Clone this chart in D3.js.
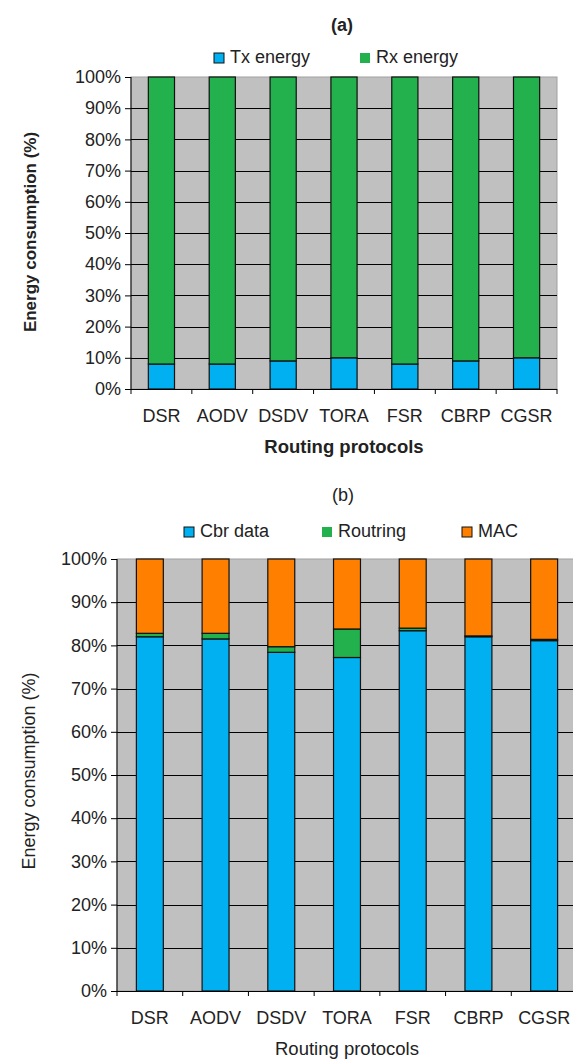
<!DOCTYPE html>
<html>
<head>
<meta charset="utf-8">
<script src="https://cdn.jsdelivr.net/npm/d3@7"></script>
<style>
  html, body { margin: 0; padding: 0; background: #fff; }
  svg { display: block; }
  text { font-family: "Liberation Sans", Arial, sans-serif; fill: #222; }
</style>
</head>
<body>
<svg id="chart" width="573" height="1060"></svg>
<script>
// ---- Data ----
const protocols = ["DSR", "AODV", "DSDV", "TORA", "FSR", "CBRP", "CGSR"];
const yTicks = [0, 10, 20, 30, 40, 50, 60, 70, 80, 90, 100];

// Chart (a)
const txEnergy = [8, 8, 9, 10, 8, 9, 10];
const rxEnergy = [92, 92, 91, 90, 92, 91, 90];

// Chart (b)
const cbrData = [82.0, 81.5, 78.4, 77.2, 83.4, 82.0, 81.1];
const routring = [0.8, 1.3, 1.3, 6.6, 0.6, 0.2, 0.3];
const macData = [17.2, 17.2, 20.3, 16.2, 16.0, 17.8, 18.6];

const svg = d3.select("#chart");

function drawChart(cfg) {
  const g = svg.append("g");
  const x = d3.scaleBand().domain(protocols).range([cfg.left, cfg.right]).paddingInner(0).paddingOuter(0);
  const y = d3.scaleLinear().domain([0, 100]).range([cfg.bottom, cfg.top]);

  // plot background
  g.append("rect")
    .attr("x", cfg.left).attr("y", cfg.top)
    .attr("width", cfg.right - cfg.left).attr("height", cfg.bottom - cfg.top)
    .attr("fill", "#c0c0c0").attr("stroke", "#a0a0a0").attr("stroke-width", 1);

  // gridlines
  g.selectAll(".grid").data(yTicks.filter(t => t > 0 && t < 100)).enter()
    .append("line")
    .attr("x1", cfg.left).attr("x2", cfg.right)
    .attr("y1", d => Math.round(y(d)) + 0.5).attr("y2", d => Math.round(y(d)) + 0.5)
    .attr("stroke", "#000").attr("stroke-width", 1);

  // stacked bars
  const rows = protocols.map((p, i) => {
    const r = { protocol: p };
    cfg.series.forEach(s => { r[s.key] = s.values[i]; });
    return r;
  });
  const stack = d3.stack().keys(cfg.series.map(s => s.key));
  const layers = stack(rows);
  const bw = x.bandwidth() * cfg.barFrac;
  layers.forEach((layer, li) => {
    g.selectAll(null).data(layer).enter().append("rect")
      .attr("x", d => x(d.data.protocol) + (x.bandwidth() - bw) / 2)
      .attr("y", d => y(d[1]))
      .attr("width", bw)
      .attr("height", d => Math.max(0, y(d[0]) - y(d[1])))
      .attr("fill", cfg.series[li].color)
      .attr("stroke", "#111").attr("stroke-width", 1.2);
  });

  // y axis
  const yAxis = d3.axisLeft(y).tickValues(yTicks).tickFormat(d => d + "%").tickSize(6).tickPadding(4);
  const ya = g.append("g").attr("transform", `translate(${cfg.left},0)`).call(yAxis);
  ya.select(".domain").attr("stroke", "#000").attr("d", `M0,${cfg.top}V${cfg.bottom}`);
  ya.selectAll(".tick line").attr("stroke", "#000");
  ya.selectAll("text").style("font-size", "18px").style("font-family", "Liberation Sans, Arial, sans-serif").attr("fill", cfg.tickColor);

  // x axis (ticks at category boundaries)
  const xa = g.append("g").attr("transform", `translate(0,${cfg.bottom})`);
  xa.append("line").attr("x1", cfg.left).attr("x2", cfg.right).attr("y1", 0.5).attr("y2", 0.5).attr("stroke", "#000");
  const bounds = protocols.map(p => x(p)).concat([cfg.right]);
  xa.selectAll(".xt").data(bounds).enter().append("line")
    .attr("x1", d => d).attr("x2", d => d).attr("y1", 0).attr("y2", 5).attr("stroke", "#000");
  xa.selectAll(".xl").data(protocols).enter().append("text")
    .attr("x", d => x(d) + x.bandwidth() / 2)
    .attr("y", cfg.xLabelY - cfg.bottom)
    .attr("text-anchor", "middle")
    .style("font-size", "18px").attr("fill", cfg.tickColor)
    .text(d => d);

  // titles
  g.append("text").attr("x", cfg.titleX).attr("y", cfg.titleY).attr("text-anchor", "middle")
    .style("font-size", "18px").style("font-weight", cfg.bold ? "bold" : "normal").text(cfg.title);
  g.append("text").attr("x", (cfg.left + cfg.right) / 2).attr("y", cfg.xTitleY).attr("text-anchor", "middle")
    .style("font-size", "18.5px").style("font-weight", cfg.bold ? "bold" : "normal").text("Routing protocols");
  g.append("text").attr("transform", `translate(${cfg.yTitleX},${cfg.yTitleMid}) rotate(-90)`)
    .attr("text-anchor", "middle")
    .style("font-size", cfg.bold ? "17px" : "18px").style("font-weight", cfg.bold ? "bold" : "normal")
    .text("Energy consumption (%)");

  // legend
  cfg.legend.forEach((l, i) => {
    const s = cfg.series[l.idx];
    g.append("rect").attr("x", l.x).attr("y", cfg.legendY - 10).attr("width", 10).attr("height", 10)
      .attr("fill", s.color).attr("stroke", l.border ? "#111" : "none").attr("stroke-width", 1);
    g.append("text").attr("x", l.x + 16).attr("y", cfg.legendY).style("font-size", "18px").text(s.name);
  });
}

drawChart({
  left: 131, right: 557, top: 77, bottom: 389, barFrac: 0.43,
  series: [
    { key: "tx", name: "Tx energy", values: txEnergy, color: "#00b0f0" },
    { key: "rx", name: "Rx energy", values: rxEnergy, color: "#22b14c" }
  ],
  tickColor: "#1c1c3a",
  xLabelY: 422, xTitleY: 453, title: "(a)", titleX: 342, titleY: 31, bold: true,
  yTitleX: 36, yTitleMid: 232, legendY: 63,
  legend: [{ idx: 0, x: 214, border: true }, { idx: 1, x: 360, border: false }]
});

drawChart({
  left: 117, right: 577, top: 559, bottom: 991, barFrac: 0.41,
  series: [
    { key: "cbr", name: "Cbr data", values: cbrData, color: "#00b0f0" },
    { key: "rout", name: "Routring", values: routring, color: "#22b14c" },
    { key: "mac", name: "MAC", values: macData, color: "#ff8000" }
  ],
  tickColor: "#333",
  xLabelY: 1024, xTitleY: 1055, title: "(b)", titleX: 343, titleY: 501, bold: false,
  yTitleX: 35, yTitleMid: 771, legendY: 537,
  legend: [{ idx: 0, x: 184, border: true }, { idx: 1, x: 322, border: false }, { idx: 2, x: 462, border: true }]
});
</script>
</body>
</html>
